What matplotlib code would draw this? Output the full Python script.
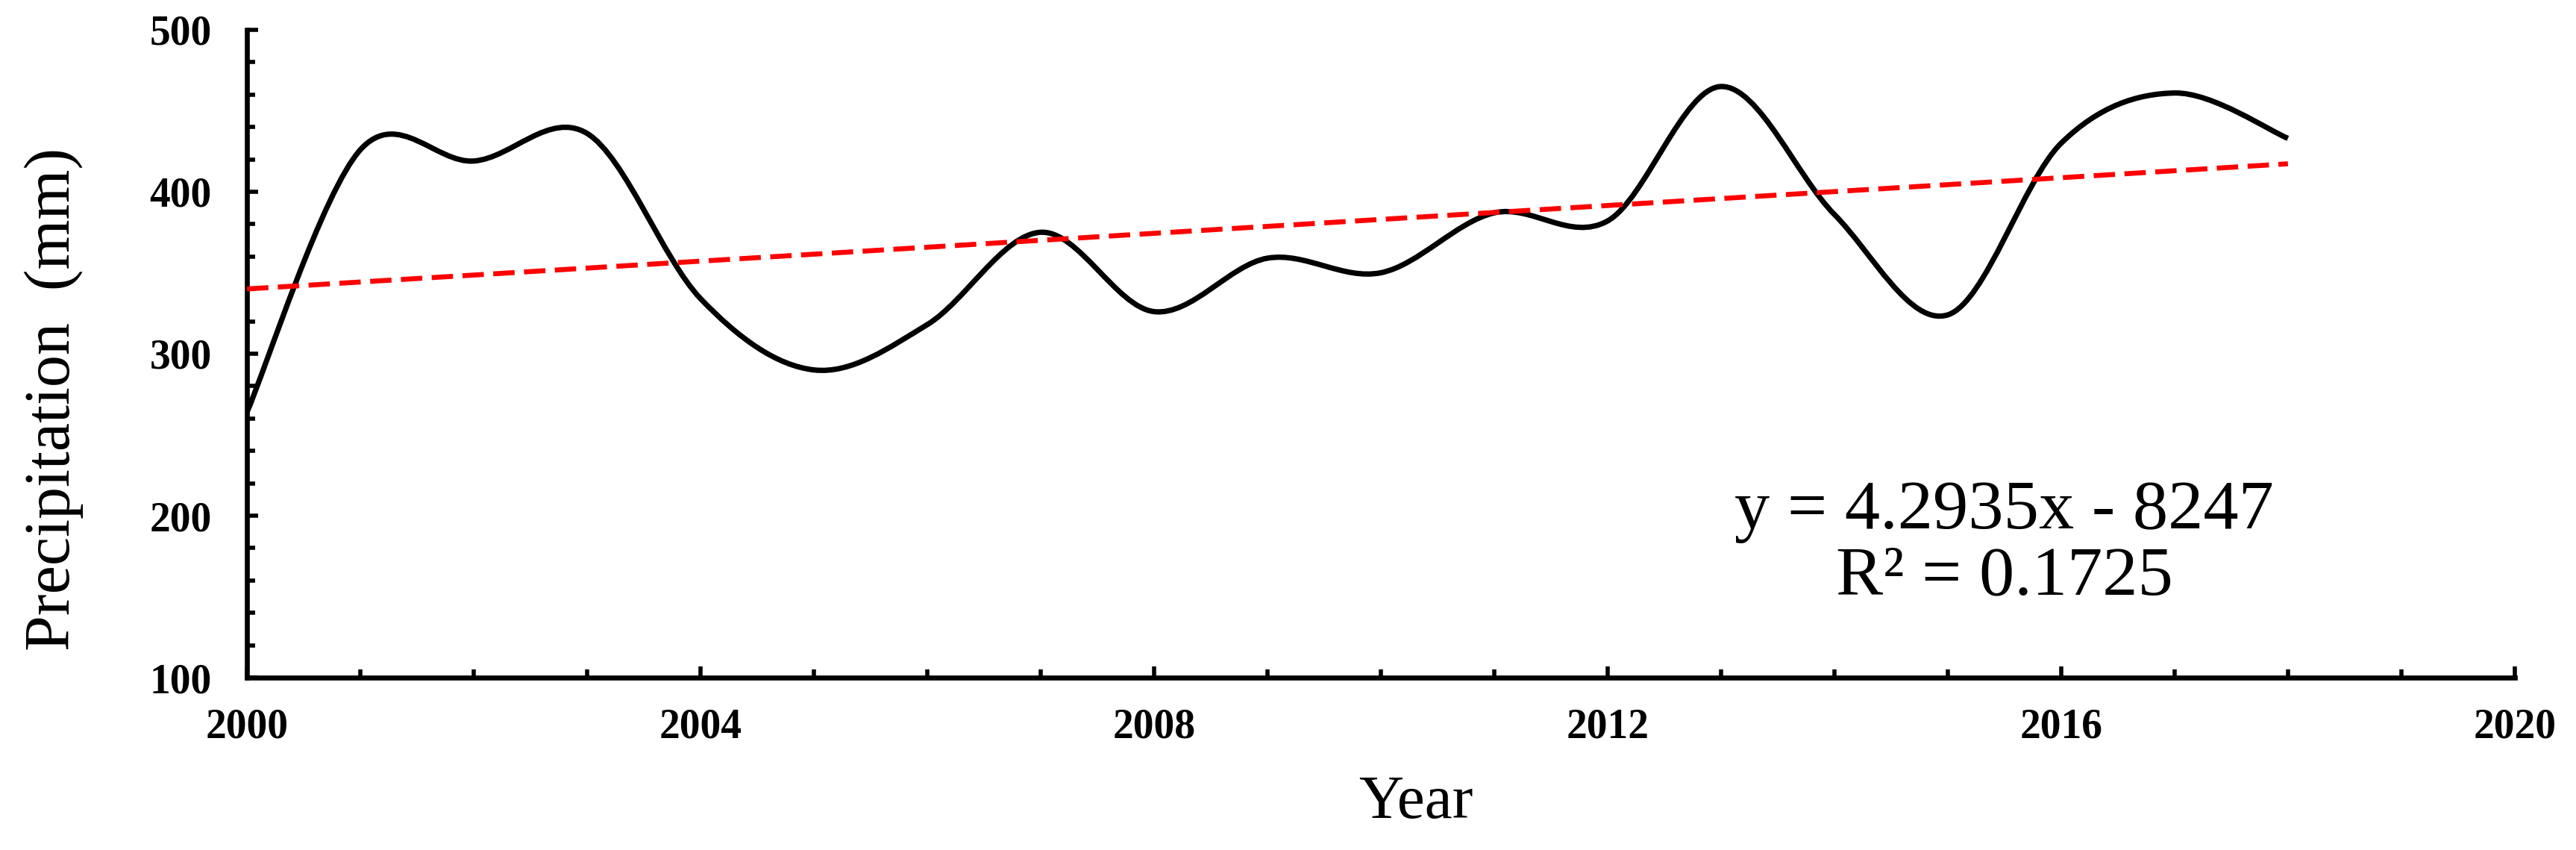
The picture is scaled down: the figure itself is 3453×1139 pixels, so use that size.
import matplotlib
matplotlib.use("Agg")
import matplotlib.pyplot as plt
from matplotlib.path import Path
from matplotlib.patches import PathPatch
from matplotlib.ticker import MultipleLocator
import numpy as np

# annual precipitation
years = [2000, 2001, 2002, 2003, 2004, 2005, 2006, 2007, 2008, 2009,
         2010, 2011, 2012, 2013, 2014, 2015, 2016, 2017, 2018]
precip = [264, 426, 419, 436, 334, 290, 318, 375, 326, 359,
          350, 387, 382, 465, 386, 324, 430, 461, 433]

# linear trend as printed on the chart
slope, intercept = 4.2935, -8247
trend_text = "y = 4.2935x - 8247\nR\u00b2 = 0.1725"

plt.rcParams["font.family"] = ["Liberation Serif", "DejaVu Serif"]

fig = plt.figure(figsize=(34.53, 11.39), dpi=100)
ax = fig.add_axes([0.0959, 0.2028, 0.8803, 0.7621])


def smooth_path(xs, ys):
    """Excel-style smoothed line: cubic Bezier segments through every point."""
    p = np.column_stack([xs, ys]).astype(float)
    n = len(p)
    verts = [p[0]]
    codes = [Path.MOVETO]
    for i in range(n - 1):
        p0 = p[i - 1] if i > 0 else p[i]
        p3 = p[i + 2] if i + 2 < n else p[i + 1]
        c1 = p[i] + (p[i + 1] - p0) / 6
        c2 = p[i + 1] - (p3 - p[i]) / 6
        verts += [c1, c2, p[i + 1]]
        codes += [Path.CURVE4] * 3
    return Path(verts, codes)


ax.add_patch(PathPatch(smooth_path(years, precip), facecolor="none",
                       edgecolor="black", lw=5.2, capstyle="butt", zorder=3))

tx = np.array([years[0], years[-1]])
ax.plot(tx, slope * tx + intercept, color="#ff0000", lw=4.8,
        linestyle=(0, (4.3, 1.9)), zorder=4)

ax.text(2015.5, 182, trend_text, ha="center", va="center", fontsize=68,
        linespacing=1.05)

ax.set_xlim(2000, 2020)
ax.set_ylim(100, 500)
ax.xaxis.set_major_locator(MultipleLocator(4))
ax.xaxis.set_minor_locator(MultipleLocator(1))
ax.yaxis.set_major_locator(MultipleLocator(100))
ax.yaxis.set_minor_locator(MultipleLocator(20))
ax.tick_params(which="both", direction="in", width=4, color="black")
ax.tick_params(which="major", length=11, labelsize=40)
ax.tick_params(which="minor", length=8)
ax.tick_params(axis="x", which="major", pad=29)
ax.tick_params(axis="y", which="major", pad=34)
for lab in ax.get_xticklabels() + ax.get_yticklabels():
    lab.set_fontweight("bold")

ax.spines[["top", "right"]].set_visible(False)
for s in ("left", "bottom"):
    ax.spines[s].set_linewidth(4.8)

ax.set_xlabel("Year", fontsize=60)
ax.set_ylabel("Precipitation  (mm)", fontsize=62)
ax.xaxis.set_label_coords(0.5155, -0.150)
ax.yaxis.set_label_coords(-0.072, 0.43)

fig.savefig("out.png", dpi=100, facecolor="white")
